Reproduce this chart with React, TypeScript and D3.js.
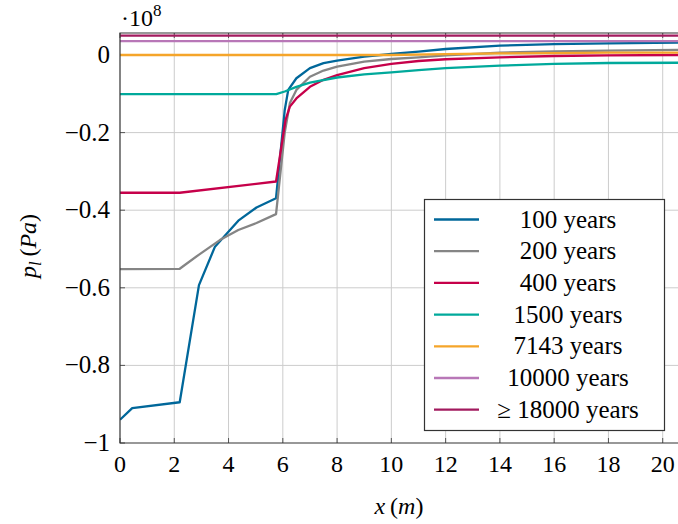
import React from "react";
import * as d3 from "d3";

// pressure profiles, x in m, p in 1e8 Pa
const years100 = [[0, -0.94], [0.45, -0.91], [2.2, -0.895], [2.91, -0.593], [3.5, -0.494], [4.36, -0.427], [5.03, -0.393], [5.75, -0.369], [6.07, -0.142], [6.2, -0.09], [6.5, -0.06], [7, -0.034], [7.5, -0.021], [8, -0.0146], [9, -0.0043], [10, 0.0026], [11, 0.0085], [12, 0.0155], [14, 0.024], [16, 0.028], [18, 0.03], [20.6, 0.032]];
const years200 = [[0, -0.552], [2.2, -0.551], [2.9, -0.515], [3.68, -0.477], [4.36, -0.451], [5.03, -0.433], [5.75, -0.41], [6.07, -0.2], [6.26, -0.124], [6.5, -0.09], [7, -0.056], [7.5, -0.04], [8, -0.03], [9, -0.017], [10, -0.0103], [11, -0.006], [12, -0.001], [14, 0.006], [16, 0.0095], [18, 0.0115], [20.6, 0.013]];
const years400 = [[0, -0.355], [2.2, -0.355], [5.75, -0.326], [6.1, -0.167], [6.26, -0.133], [6.5, -0.112], [7, -0.082], [7.5, -0.064], [8, -0.052], [9, -0.034], [10, -0.023], [11, -0.0155], [12, -0.011], [14, -0.006], [16, -0.0026], [18, -0.001], [20.6, 0]];
const years1500 = [[0, -0.101], [5.76, -0.101], [6.07, -0.094], [6.5, -0.082], [7, -0.071], [8, -0.058], [9, -0.05], [10, -0.045], [11, -0.039], [12, -0.034], [14, -0.0275], [16, -0.023], [18, -0.0206], [20.6, -0.02]];
const years7143 = [[0, 0], [10, 0], [12, 0.002], [14, 0.004], [16, 0.005], [18, 0.006], [20.6, 0.006]];
const years10000 = [[0, 0.036], [20.6, 0.036]];
const years18000 = [[0, 0.05], [20.6, 0.05]];

const seriesNames = ["100 years", "200 years", "400 years", "1500 years", "7143 years", "10000 years", "\u2265 18000 years"];
const seriesData = [years100, years200, years400, years1500, years7143, years10000, years18000];
const seriesColors = ["#00679a", "#858585", "#c6004a", "#00a99b", "#f5a52a", "#b877b7", "#a21a5e"];

const xTicks = [0, 2, 4, 6, 8, 10, 12, 14, 16, 18, 20];
const yTicks = [-1, -0.8, -0.6, -0.4, -0.2, 0];

const width = 678;
const height = 524;
const left = 120, right = 679, top = 33, bottom = 443;
const serif = { fontFamily: "Liberation Serif" };

const x = d3.scaleLinear().domain([0, 20.6]).range([left, right]);
const y = d3.scaleLinear().domain([-1, 0.0567]).range([bottom, top]);
const line = d3.line().x((d) => x(d[0])).y((d) => y(d[1]));

const fmt = (v) => (v === 0 ? "0" : "\u2212" + String(Math.abs(v)));

export default function App() {
    return (
        <svg width={width} height={height} style={{ position: "absolute", left: 0, top: 0 }}>
            <defs>
                <clipPath id="plotclip">
                    <rect x={left} y={top} width={right - left} height={bottom - top} />
                </clipPath>
            </defs>

            {/* grid */}
            {xTicks.filter((t) => t > 0).map((t) => (
                <line key={"vg" + t} x1={x(t)} x2={x(t)} y1={top} y2={bottom} stroke="#cccccc" strokeWidth={1} />
            ))}
            {yTicks.filter((t) => t > -1).map((t) => (
                <line key={"hg" + t} x1={left} x2={right} y1={y(t)} y2={y(t)} stroke="#cccccc" strokeWidth={1} />
            ))}

            {/* inward ticks */}
            <g stroke="#555" strokeWidth={1}>
                {xTicks.map((t) => (
                    <g key={"xt" + t}>
                        <line x1={x(t)} x2={x(t)} y1={bottom} y2={bottom - 5} />
                        <line x1={x(t)} x2={x(t)} y1={top} y2={top + 5} />
                    </g>
                ))}
                {yTicks.map((t) => (
                    <line key={"yt" + t} x1={left} x2={left + 5} y1={y(t)} y2={y(t)} />
                ))}
            </g>

            <g clipPath="url(#plotclip)">
                {seriesData.map((s, i) => (
                    <path key={i} d={line(s)} fill="none" stroke={seriesColors[i]} strokeWidth={2.3} strokeLinejoin="round" />
                ))}
            </g>

            <path d={`M${right},${top}H${left}V${bottom}H${right}`} fill="none" stroke="#333" strokeWidth={1.2} />

            {/* tick labels */}
            {xTicks.map((t) => (
                <text key={"xl" + t} x={x(t)} y={472} textAnchor="middle" fontSize={24} style={serif}>
                    {String(t)}
                </text>
            ))}
            {yTicks.map((t) => (
                <text key={"yl" + t} x={110} y={y(t) + 8} textAnchor="end" fontSize={25} style={serif}>
                    {fmt(t)}
                </text>
            ))}

            <text x={121} y={26} fontSize={24} style={serif}>
                {"\u00b710"}
                <tspan dy={-10} fontSize={17}>8</tspan>
            </text>

            {/* axis labels */}
            <text x={399} y={514} textAnchor="middle" fontSize={24} style={serif}>
                <tspan fontStyle="italic">x</tspan>
                <tspan>{"\u2009("}</tspan>
                <tspan fontStyle="italic">m</tspan>
                <tspan>)</tspan>
            </text>
            <text transform="translate(36,246) rotate(-90)" textAnchor="middle" fontSize={24} style={serif}>
                <tspan fontStyle="italic">p</tspan>
                <tspan fontStyle="italic" fontSize={17} dy={5}>l</tspan>
                <tspan dy={-5}>{"\u2009("}</tspan>
                <tspan fontStyle="italic">Pa</tspan>
                <tspan>)</tspan>
            </text>

            {/* legend */}
            <rect x={424.5} y={199.5} width={240} height={231} fill="white" stroke="#333" strokeWidth={1.2} />
            {seriesNames.map((name, i) => {
                const cy = 219.5 + i * 31.7;
                return (
                    <g key={name}>
                        <line x1={434} x2={479} y1={cy} y2={cy} stroke={seriesColors[i]} strokeWidth={2.3} />
                        <text x={568} y={cy + 8} textAnchor="middle" fontSize={25} style={serif}>
                            {name}
                        </text>
                    </g>
                );
            })}
        </svg>
    );
}
